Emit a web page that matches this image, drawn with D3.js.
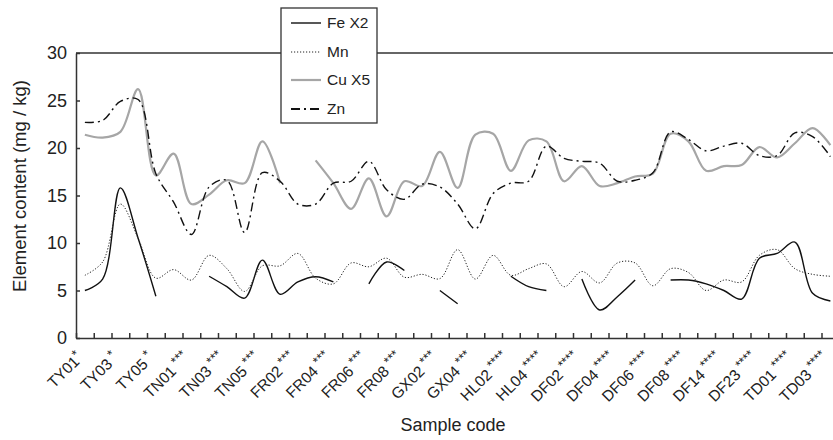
<!DOCTYPE html>
<html>
<head>
<meta charset="utf-8">
<script src="https://cdn.jsdelivr.net/npm/d3@7"></script>
<style>
  body { margin: 0; background: #fff; }
  svg { font-family: "Liberation Sans", Arial, sans-serif; display: block; }
</style>
</head>
<body>
<script>
const width = 833;
const height = 440;

// 43 samples, only every other one is labelled on the axis
const tickLabels = ["TY01*", "TY03 *", "TY05 *", "TN01 ***", "TN03 ***", "TN05 ***",
  "FR02 ***", "FR04 ***", "FR06 ***", "FR08 ***", "GX02 ***", "GX04 ***",
  "HL02 ****", "HL04 ****", "DF02 ****", "DF04 ****", "DF06 ****", "DF08 ****",
  "DF14 ****", "DF23 ****", "TD01 ****", "TD03 ****"];
const nSamples = 43;

// values (null = missing sample)
const fe = [5.0, 6.2, 15.8, 10.5, 4.4, null, null, 6.5, 5.4, 4.2, 8.2, 4.6, 5.9, 6.45, 5.9, null,
  5.7, 8.0, 7.1, null, 5.0, 3.6, null, null, 6.5, 5.4, 5.0, null, 6.2, 2.95, 4.35, 6.1, null,
  6.1, 6.1, 5.7, 5.0, 4.1, 8.4, 8.9, 10.1, 4.7, 3.9];
const mn = [6.6, 8.0, 14.1, 10.5, 6.3, 7.2, 6.1, 8.7, 7.3, 4.9, 7.6, 7.6, 8.9, 6.3, 5.7, 7.9,
  7.5, 8.4, 6.4, 6.7, 6.25, 9.3, 6.2, 8.7, 6.6, 7.3, 7.8, 5.4, 7.0, 5.8, 7.9, 7.9, 5.5,
  7.3, 6.9, 5.0, 6.1, 5.9, 8.7, 9.3, 7.3, 6.7, 6.5];
const cu = [21.4, 21.1, 21.7, 26.2, 17.1, 19.4, 14.1, 15.1, 16.6, 16.3, 20.7, 16.3, null, 18.7, 16.3, 13.6,
  16.8, 12.8, 16.5, 16.0, 19.6, 15.8, 21.4, 21.5, 17.6, 20.8, 20.7, 16.5, 18.1, 16.0, 16.3, 17.0, 17.3,
  21.5, 20.7, 17.6, 18.1, 18.2, 20.1, 19.0, 20.5, 22.1, 20.3];
const zn = [22.7, 22.9, 24.9, 25.1, 17.3, 14.3, 10.9, 15.9, 16.6, 11.1, 17.4, 16.5, 14.1, 14.1, 16.3, 16.5,
  18.6, 15.6, 14.6, 16.2, 15.9, 14.1, 11.5, 15.2, 16.3, 16.5, 20.2, 18.9, 18.6, 18.4, 16.5, 16.6, 17.4,
  21.7, 20.9, 19.7, 20.2, 20.5, 19.2, 19.2, 21.6, 21.2, 19.1];
const yTicks = [0, 5, 10, 15, 20, 25, 30];

const series = [
  { name: "Fe X2", values: fe, color: "#111", width: 1.4, dash: null },
  { name: "Mn", values: mn, color: "#222", width: 1, dash: "1.2,1.8" },
  { name: "Cu X5", values: cu, color: "#a6a6a6", width: 2.2, dash: null },
  { name: "Zn", values: zn, color: "#111", width: 1.4, dash: "9,4,2,4" }
];

const plotLeft = 76, plotTop = 53, plotBottom = 338;
const step = 17.75;
const plotRight = plotLeft + step * nSamples;

// scales
const xBand = d3.scaleBand().domain(d3.range(nSamples)).range([plotLeft, plotRight]);
const xEdge = d3.scaleLinear().domain([0, nSamples]).range([plotLeft, plotRight]);
const yScale = d3.scaleLinear().domain([0, 30]).range([plotBottom, plotTop]);

const svg = d3.select("body").append("svg")
  .attr("width", width)
  .attr("height", height);

// top frame line
svg.append("line")
  .attr("x1", plotLeft).attr("x2", plotRight)
  .attr("y1", yScale(30)).attr("y2", yScale(30))
  .attr("stroke", "#333").attr("stroke-width", 1.5);

// lines
const line = d3.line()
  .defined(d => d != null)
  .x((d, i) => xBand(i) + xBand.bandwidth() / 2)
  .y(d => yScale(d))
  .curve(d3.curveCatmullRom.alpha(0.5));

svg.selectAll(".series")
  .data(series)
  .enter()
  .append("path")
    .attr("class", "series")
    .attr("d", s => line(s.values))
    .attr("fill", "none")
    .attr("stroke", s => s.color)
    .attr("stroke-width", s => s.width)
    .attr("stroke-dasharray", s => s.dash);

// y axis
const yAxis = svg.append("g")
  .attr("transform", `translate(${plotLeft},0)`)
  .call(d3.axisLeft(yScale).tickValues(yTicks).tickSizeInner(-4).tickSizeOuter(0).tickPadding(9));
yAxis.selectAll("text").style("font-size", "18px").attr("fill", "#222");
yAxis.selectAll("line, path").attr("stroke", "#333").attr("stroke-width", 1.5);

// x axis: ticks on sample boundaries
const xAxis = svg.append("g")
  .attr("transform", `translate(0,${plotBottom})`)
  .call(d3.axisBottom(xEdge).tickValues(d3.range(nSamples + 1)).tickSizeInner(-5).tickSizeOuter(0).tickFormat(""));
xAxis.selectAll("line, path").attr("stroke", "#333").attr("stroke-width", 1.5);

// rotated labels at every other sample, stars as small superscripts
const labels = svg.append("g").selectAll("text")
  .data(tickLabels)
  .enter()
  .append("text")
    .attr("transform", (d, i) => `translate(${xBand(i * 2) + xBand.bandwidth() / 2 - 1},${plotBottom + 21}) rotate(-45)`)
    .attr("text-anchor", "end")
    .style("font-size", "15.5px")
    .attr("fill", "#222");
labels.append("tspan").text(d => d.replace(/\s?\*+$/, ""));
labels.append("tspan")
  .attr("dy", -5)
  .style("font-size", "13px")
  .text(d => d.match(/\s?\*+$/)[0]);

// axis titles
svg.append("text")
  .attr("x", 453)
  .attr("y", 431)
  .attr("text-anchor", "middle")
  .style("font-size", "18px")
  .attr("fill", "#222")
  .text("Sample code");

svg.append("text")
  .attr("transform", "rotate(-90)")
  .attr("x", -186)
  .attr("y", 26)
  .attr("text-anchor", "middle")
  .style("font-size", "18.5px")
  .attr("fill", "#222")
  .text("Element content (mg / kg)");

// legend
const legend = svg.append("g");
legend.append("rect")
  .attr("x", 281).attr("y", 8)
  .attr("width", 96).attr("height", 115)
  .attr("fill", "#fff")
  .attr("stroke", "#333").attr("stroke-width", 1.3);

const legendRows = [23, 52, 80, 109];
series.forEach((s, i) => {
  legend.append("line")
    .attr("x1", 291).attr("x2", 321)
    .attr("y1", legendRows[i]).attr("y2", legendRows[i])
    .attr("stroke", s.color)
    .attr("stroke-width", s.width + (s.dash === "9,4,2,4" ? 0.6 : 0))
    .attr("stroke-dasharray", s.dash);
  legend.append("text")
    .attr("x", 327)
    .attr("y", legendRows[i])
    .attr("dy", "0.35em")
    .style("font-size", "15.5px")
    .attr("fill", "#222")
    .text(s.name);
});
</script>
</body>
</html>
